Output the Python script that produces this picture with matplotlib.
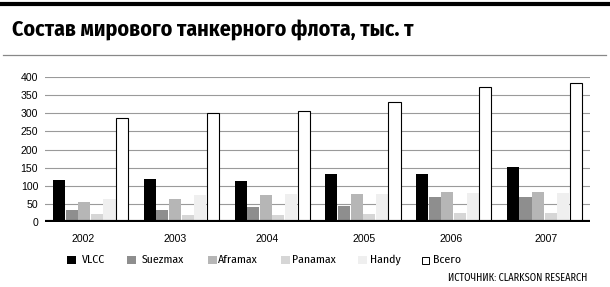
import numpy as np
import matplotlib
matplotlib.use('Agg')
import matplotlib.pyplot as plt
from matplotlib import font_manager as fm
from matplotlib.ft2font import FT2Font
from matplotlib.lines import Line2D
from matplotlib.patches import Rectangle

plt.rcParams['font.family'] = ['Liberation Sans', 'DejaVu Sans']

# data
years = ['2002', '2003', '2004', '2005', '2006', '2007']
series = ['VLCC', 'Suezmax', 'Aframax', 'Panamax', 'Handy', 'Всего']
vlcc = [116, 118, 113, 132, 132, 152]
suezmax = [33, 33, 41, 44, 69, 69]
aframax = [55, 63, 74, 77, 83, 83]
panamax = [22, 20, 19, 22, 25, 25]
handy = [63, 75, 77, 77, 80, 80]
total = [287, 300, 306, 331, 373, 384]
yticks = [0, 50, 100, 150, 200, 250, 300, 350, 400]

colors = ['#000000', '#8e8e8e', '#b6b6b6', '#d6d6d6', '#efefef', '#ffffff']
values = [vlcc, suezmax, aframax, panamax, handy, total]


def has_cyrillic(path):
    try:
        cmap = FT2Font(path).get_charmap()
    except Exception:
        return False
    return all(ord(ch) in cmap for ch in 'СостаИЧ')


# a narrow face with Cyrillic if the system has one, else Liberation Sans
narrow = [f.name for f in fm.fontManager.ttflist
          if ('Narrow' in f.name or 'Condensed' in f.name)
          and has_cyrillic(f.fname)]
fam = ([narrow[0]] if narrow else []) + ['Liberation Sans', 'DejaVu Sans']

fig = plt.figure(figsize=(6.10, 2.87), dpi=100)
renderer = fig.canvas.get_renderer()


def fit(texts, width_px):
    # common font size so the texts span the same width as in the original
    w = sum(t.get_window_extent(renderer).width for t in texts)
    for t in texts:
        t.set_fontsize(t.get_fontsize() * width_px / w)


# header rules and title
fig.add_artist(Line2D([0.0, 1.0], [0.986, 0.986], color='black', lw=3.0))
fig.add_artist(Line2D([0.005, 0.993], [0.808, 0.808], color='#888888', lw=0.9))
title = fig.text(0.02, 0.895, 'Состав мирового танкерного флота, тыс. т',
                 family=fam, weight='bold', fontsize=14,
                 va='center', ha='left')
fit([title], 401)

ax = fig.add_axes([0.074, 0.2265, 0.893, 0.505])
x = np.arange(len(years))
w = 0.139
for i, (vals, c) in enumerate(zip(values, colors)):
    off = (i - 2.5) * w
    ax.bar(x + off, vals, width=w * 0.96, color=c,
           edgecolor='black' if i == 5 else 'none', lw=0.8, zorder=3)

ax.set_xlim(-0.5, 5.5)
ax.set_ylim(0, 400)
ax.set_yticks(yticks)
ax.yaxis.grid(True, color='#9a9a9a', lw=0.8, zorder=0)
ax.axhline(0, color='black', lw=3, zorder=4)
for s in ax.spines.values():
    s.set_visible(False)
ax.tick_params(axis='y', length=0, labelsize=7.6, pad=5)
# year labels sit slightly left of most groups, as in the original
ax.set_xticks(x + np.array([-0.08, -0.07, -0.05, 0.01, -0.03, 0.02]))
ax.set_xticklabels(years)
ax.tick_params(axis='x', length=0, labelsize=7.6, pad=9)

# legend
sq_x = [67, 127, 208, 281, 358, 422]
tx_x = [82, 142, 218, 292, 370, 433]
leg_texts = []
for sx, tx, name, c in zip(sq_x, tx_x, series, colors):
    size = 7 if c == '#ffffff' else 8.5
    fig.add_artist(Rectangle((sx / 610, (27 - size / 2) / 287),
                             size / 610, size / 287, facecolor=c,
                             edgecolor='black' if c == '#ffffff' else 'none',
                             lw=0.7, transform=fig.transFigure))
    leg_texts.append(fig.text(tx / 610, 27 / 287, name, fontsize=7.3,
                              va='center', family=fam))
fit(leg_texts, 25 + 42 + 39 + 43 + 30 + 29)

src = fig.text(587 / 610, 9 / 287, 'ИСТОЧНИК: CLARKSON RESEARCH',
               fontsize=6.5, ha='right', va='center', family=fam)
fit([src], 140)

fig.savefig('out.png', dpi=100)
